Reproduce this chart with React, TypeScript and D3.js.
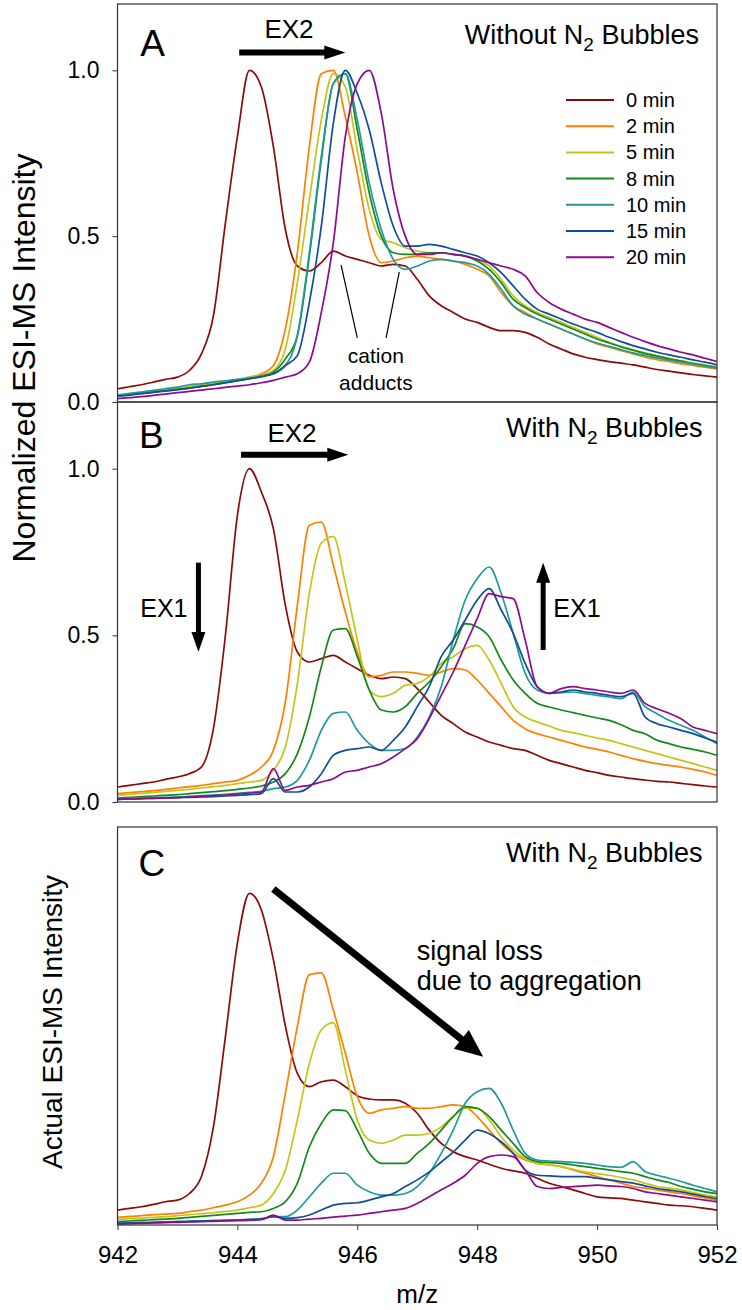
import React, { useEffect, useRef } from 'react';
import * as d3 from 'd3';

// m/z grid shared by every trace
const MZ = [
  942.0, 942.2, 942.4, 942.6, 942.8, 943.0, 943.2, 943.4, 943.6, 943.8,
  944.0, 944.2, 944.4, 944.6, 944.8, 945.0, 945.2, 945.4, 945.6, 945.8,
  946.0, 946.2, 946.4, 946.6, 946.8, 947.0, 947.2, 947.4, 947.6, 947.8,
  948.0, 948.2, 948.4, 948.6, 948.8, 949.0, 949.2, 949.4, 949.6, 949.8,
  950.0, 950.2, 950.4, 950.6, 950.8, 951.0, 951.2, 951.4, 951.6, 951.8, 952.0,
];

const SERIES = ['0 min', '2 min', '5 min', '8 min', '10 min', '15 min', '20 min'];
const COLORS = ['#8b0a0a', '#ff8000', '#c4c41a', '#14891a', '#1f9a9a', '#104e96', '#8e0a8e'];

const Y_TICKS = [0, 0.5, 1.0];
const X_TICKS = [942, 944, 946, 948, 950, 952];

// Panel A - without N2 bubbles (normalized)
const A_0 = [0.040, 0.046, 0.052, 0.060, 0.068, 0.075, 0.095, 0.145, 0.260, 0.540,
  0.800, 1.000, 0.950, 0.770, 0.520, 0.410, 0.395, 0.420, 0.455, 0.440,
  0.430, 0.420, 0.410, 0.415, 0.410, 0.370, 0.320, 0.290, 0.270, 0.250,
  0.240, 0.225, 0.215, 0.215, 0.210, 0.195, 0.175, 0.160, 0.145, 0.135,
  0.128, 0.122, 0.117, 0.112, 0.105, 0.098, 0.093, 0.088, 0.083, 0.079, 0.075];
const A_2 = [0.020, 0.024, 0.028, 0.032, 0.036, 0.040, 0.045, 0.050, 0.055, 0.060,
  0.066, 0.075, 0.085, 0.110, 0.220, 0.450, 0.770, 0.990, 1.000, 0.860,
  0.690, 0.500, 0.420, 0.425, 0.435, 0.440, 0.435, 0.430, 0.425, 0.415,
  0.400, 0.380, 0.330, 0.290, 0.270, 0.250, 0.235, 0.220, 0.205, 0.190,
  0.175, 0.165, 0.155, 0.145, 0.135, 0.128, 0.122, 0.115, 0.110, 0.105, 0.100];
const A_5 = [0.022, 0.026, 0.030, 0.034, 0.038, 0.042, 0.047, 0.052, 0.057, 0.062,
  0.068, 0.075, 0.082, 0.095, 0.160, 0.360, 0.610, 0.850, 0.990, 0.950,
  0.760, 0.580, 0.490, 0.480, 0.465, 0.455, 0.450, 0.450, 0.445, 0.440,
  0.430, 0.410, 0.370, 0.320, 0.290, 0.270, 0.255, 0.240, 0.225, 0.210,
  0.195, 0.180, 0.168, 0.158, 0.148, 0.140, 0.132, 0.125, 0.118, 0.112, 0.105];
const A_8 = [0.018, 0.022, 0.026, 0.030, 0.034, 0.038, 0.042, 0.047, 0.052, 0.058,
  0.064, 0.070, 0.078, 0.090, 0.130, 0.200, 0.440, 0.730, 0.960, 0.990,
  0.820, 0.630, 0.500, 0.450, 0.445, 0.445, 0.450, 0.450, 0.445, 0.440,
  0.425, 0.400, 0.360, 0.310, 0.285, 0.265, 0.250, 0.235, 0.220, 0.205,
  0.190, 0.178, 0.166, 0.156, 0.146, 0.138, 0.130, 0.123, 0.116, 0.110, 0.104];
const A_10 = [0.020, 0.025, 0.030, 0.035, 0.040, 0.045, 0.052, 0.055, 0.060, 0.064,
  0.068, 0.072, 0.078, 0.085, 0.110, 0.200, 0.450, 0.740, 0.960, 0.990,
  0.850, 0.660, 0.520, 0.430, 0.400, 0.410, 0.425, 0.430, 0.425, 0.420,
  0.410, 0.385, 0.340, 0.290, 0.265, 0.250, 0.235, 0.220, 0.205, 0.190,
  0.178, 0.168, 0.158, 0.148, 0.140, 0.133, 0.126, 0.120, 0.114, 0.108, 0.102];
const A_15 = [0.018, 0.021, 0.025, 0.029, 0.033, 0.037, 0.042, 0.047, 0.052, 0.058,
  0.064, 0.070, 0.076, 0.085, 0.110, 0.140, 0.300, 0.530, 0.840, 1.000,
  0.930, 0.820, 0.660, 0.530, 0.470, 0.470, 0.475, 0.470, 0.460, 0.450,
  0.440, 0.420, 0.390, 0.350, 0.310, 0.280, 0.265, 0.250, 0.235, 0.222,
  0.210, 0.195, 0.182, 0.170, 0.160, 0.150, 0.142, 0.135, 0.127, 0.120, 0.112];
const A_20 = [0.010, 0.013, 0.016, 0.020, 0.024, 0.028, 0.032, 0.036, 0.040, 0.044,
  0.048, 0.052, 0.058, 0.065, 0.075, 0.085, 0.120, 0.270, 0.480, 0.800,
  0.960, 1.000, 0.870, 0.640, 0.500, 0.445, 0.445, 0.450, 0.445, 0.440,
  0.430, 0.420, 0.410, 0.400, 0.380, 0.330, 0.300, 0.280, 0.265, 0.250,
  0.240, 0.225, 0.210, 0.195, 0.182, 0.170, 0.160, 0.150, 0.142, 0.132, 0.122];

// Panel B - with N2 bubbles (normalized)
const B_0 = [0.045, 0.050, 0.055, 0.060, 0.068, 0.075, 0.085, 0.105, 0.220, 0.500,
  0.860, 1.000, 0.930, 0.820, 0.590, 0.450, 0.420, 0.430, 0.440, 0.420,
  0.400, 0.380, 0.370, 0.375, 0.370, 0.340, 0.300, 0.260, 0.235, 0.210,
  0.195, 0.180, 0.170, 0.160, 0.155, 0.140, 0.125, 0.115, 0.105, 0.095,
  0.088, 0.080, 0.075, 0.070, 0.066, 0.062, 0.060, 0.056, 0.052, 0.048, 0.045];
const B_2 = [0.025, 0.028, 0.031, 0.034, 0.038, 0.042, 0.046, 0.050, 0.055, 0.060,
  0.065, 0.080, 0.105, 0.155, 0.300, 0.590, 0.830, 0.840, 0.710, 0.570,
  0.450, 0.376, 0.380, 0.390, 0.390, 0.386, 0.380, 0.390, 0.400, 0.396,
  0.366, 0.326, 0.286, 0.245, 0.220, 0.205, 0.195, 0.185, 0.175, 0.165,
  0.158, 0.150, 0.140, 0.130, 0.122, 0.115, 0.110, 0.105, 0.098, 0.090, 0.080];
const B_5 = [0.020, 0.023, 0.026, 0.029, 0.032, 0.035, 0.038, 0.042, 0.046, 0.050,
  0.055, 0.060, 0.065, 0.095, 0.165, 0.355, 0.626, 0.777, 0.797, 0.656,
  0.486, 0.336, 0.316, 0.326, 0.350, 0.356, 0.376, 0.416, 0.436, 0.460,
  0.470, 0.426, 0.356, 0.286, 0.255, 0.240, 0.228, 0.215, 0.208, 0.200,
  0.192, 0.185, 0.175, 0.165, 0.155, 0.145, 0.135, 0.125, 0.115, 0.105, 0.095];
const B_8 = [0.012, 0.014, 0.016, 0.018, 0.020, 0.022, 0.025, 0.028, 0.031, 0.034,
  0.038, 0.042, 0.048, 0.060, 0.085, 0.145, 0.255, 0.406, 0.516, 0.520,
  0.436, 0.336, 0.276, 0.270, 0.286, 0.326, 0.360, 0.406, 0.460, 0.535,
  0.525, 0.496, 0.426, 0.366, 0.326, 0.296, 0.285, 0.276, 0.268, 0.260,
  0.252, 0.245, 0.232, 0.215, 0.205, 0.185, 0.175, 0.165, 0.158, 0.150, 0.140];
const B_10 = [0.010, 0.011, 0.012, 0.013, 0.014, 0.015, 0.017, 0.019, 0.021, 0.023,
  0.026, 0.029, 0.032, 0.040, 0.045, 0.065, 0.125, 0.215, 0.266, 0.270,
  0.215, 0.175, 0.155, 0.155, 0.160, 0.195, 0.255, 0.346, 0.486, 0.606,
  0.670, 0.705, 0.626, 0.506, 0.386, 0.336, 0.326, 0.328, 0.330, 0.325,
  0.320, 0.315, 0.310, 0.330, 0.286, 0.265, 0.245, 0.230, 0.215, 0.195, 0.175];
const B_15 = [0.008, 0.009, 0.010, 0.011, 0.012, 0.013, 0.014, 0.015, 0.016, 0.018,
  0.020, 0.022, 0.025, 0.070, 0.030, 0.030, 0.045, 0.085, 0.140, 0.155,
  0.160, 0.165, 0.155, 0.185, 0.225, 0.286, 0.346, 0.436, 0.486, 0.546,
  0.606, 0.640, 0.576, 0.506, 0.416, 0.346, 0.326, 0.330, 0.336, 0.330,
  0.326, 0.320, 0.316, 0.326, 0.255, 0.235, 0.225, 0.215, 0.205, 0.192, 0.180];
const B_20 = [0.008, 0.009, 0.010, 0.011, 0.012, 0.013, 0.015, 0.017, 0.019, 0.021,
  0.024, 0.027, 0.030, 0.100, 0.035, 0.045, 0.050, 0.060, 0.070, 0.090,
  0.095, 0.105, 0.115, 0.135, 0.160, 0.190, 0.250, 0.320, 0.390, 0.470,
  0.550, 0.625, 0.616, 0.610, 0.486, 0.346, 0.326, 0.340, 0.346, 0.340,
  0.336, 0.330, 0.326, 0.336, 0.296, 0.280, 0.266, 0.250, 0.225, 0.215, 0.205];

// Panel C - with N2 bubbles (actual intensity, arbitrary units)
const C_0 = [0.045, 0.050, 0.055, 0.062, 0.070, 0.075, 0.095, 0.146, 0.296, 0.568,
  0.850, 1.000, 0.950, 0.800, 0.600, 0.457, 0.417, 0.432, 0.437, 0.417,
  0.390, 0.380, 0.377, 0.377, 0.367, 0.337, 0.286, 0.246, 0.221, 0.206,
  0.196, 0.183, 0.171, 0.163, 0.156, 0.141, 0.126, 0.116, 0.106, 0.095,
  0.085, 0.082, 0.080, 0.075, 0.070, 0.065, 0.060, 0.058, 0.055, 0.050, 0.045];
const C_2 = [0.023, 0.026, 0.028, 0.031, 0.033, 0.035, 0.040, 0.045, 0.052, 0.060,
  0.070, 0.090, 0.126, 0.206, 0.397, 0.598, 0.755, 0.760, 0.648, 0.518,
  0.387, 0.337, 0.347, 0.352, 0.357, 0.352, 0.352, 0.357, 0.362, 0.357,
  0.327, 0.286, 0.246, 0.216, 0.196, 0.186, 0.181, 0.176, 0.166, 0.156,
  0.146, 0.136, 0.126, 0.116, 0.111, 0.106, 0.100, 0.095, 0.088, 0.082, 0.075];
const C_5 = [0.017, 0.019, 0.021, 0.023, 0.025, 0.028, 0.031, 0.034, 0.037, 0.041,
  0.045, 0.052, 0.060, 0.095, 0.166, 0.317, 0.487, 0.588, 0.610, 0.467,
  0.317, 0.256, 0.246, 0.256, 0.271, 0.271, 0.276, 0.296, 0.327, 0.352,
  0.352, 0.317, 0.266, 0.226, 0.200, 0.186, 0.181, 0.176, 0.168, 0.160,
  0.155, 0.150, 0.143, 0.136, 0.126, 0.116, 0.111, 0.106, 0.098, 0.090, 0.085];
const C_8 = [0.010, 0.012, 0.014, 0.016, 0.018, 0.020, 0.023, 0.026, 0.029, 0.032,
  0.035, 0.038, 0.040, 0.050, 0.070, 0.126, 0.236, 0.306, 0.347, 0.345,
  0.286, 0.216, 0.186, 0.186, 0.186, 0.216, 0.246, 0.286, 0.327, 0.357,
  0.352, 0.327, 0.286, 0.246, 0.206, 0.191, 0.188, 0.186, 0.181, 0.176,
  0.171, 0.166, 0.161, 0.156, 0.146, 0.136, 0.128, 0.116, 0.108, 0.100, 0.095];
const C_10 = [0.005, 0.006, 0.007, 0.008, 0.009, 0.010, 0.011, 0.012, 0.013, 0.014,
  0.015, 0.017, 0.019, 0.025, 0.025, 0.045, 0.085, 0.126, 0.156, 0.156,
  0.120, 0.100, 0.090, 0.090, 0.095, 0.116, 0.156, 0.216, 0.286, 0.367,
  0.402, 0.412, 0.367, 0.286, 0.216, 0.196, 0.193, 0.191, 0.189, 0.186,
  0.181, 0.176, 0.174, 0.191, 0.161, 0.150, 0.141, 0.131, 0.120, 0.110, 0.100];
const C_15 = [0.005, 0.006, 0.007, 0.008, 0.009, 0.010, 0.011, 0.012, 0.013, 0.014,
  0.015, 0.016, 0.018, 0.025, 0.020, 0.022, 0.030, 0.045, 0.060, 0.065,
  0.067, 0.075, 0.085, 0.095, 0.116, 0.136, 0.160, 0.190, 0.220, 0.256,
  0.286, 0.275, 0.251, 0.216, 0.166, 0.150, 0.148, 0.146, 0.146, 0.146,
  0.141, 0.136, 0.131, 0.126, 0.118, 0.110, 0.105, 0.100, 0.093, 0.086, 0.080];
const C_20 = [0.003, 0.004, 0.005, 0.006, 0.007, 0.008, 0.009, 0.010, 0.011, 0.012,
  0.013, 0.014, 0.016, 0.030, 0.015, 0.015, 0.018, 0.020, 0.024, 0.027,
  0.030, 0.035, 0.040, 0.045, 0.050, 0.065, 0.085, 0.106, 0.126, 0.150,
  0.186, 0.206, 0.211, 0.206, 0.166, 0.116, 0.110, 0.113, 0.116, 0.118,
  0.120, 0.118, 0.116, 0.110, 0.100, 0.095, 0.090, 0.085, 0.080, 0.075, 0.070];

const PANEL_A = [A_0, A_2, A_5, A_8, A_10, A_15, A_20];
const PANEL_B = [B_0, B_2, B_5, B_8, B_10, B_15, B_20];
const PANEL_C = [C_0, C_2, C_5, C_8, C_10, C_15, C_20];

const W = 742;
const H = 1310;
const LEFT = 117.5;
const RIGHT = 717;
const FONT = "'Liberation Sans', Arial, Helvetica, sans-serif";

const PANELS = [
  { key: 'A', top: 4, bottom: 402, data: PANEL_A, yAxis: true },
  { key: 'B', top: 402, bottom: 802, data: PANEL_B, yAxis: true },
  { key: 'C', top: 827, bottom: 1225, data: PANEL_C, yAxis: false },
];

type G = d3.Selection<SVGGElement, unknown, null, undefined>;

function arrow(g: G, x1: number, y1: number, x2: number, y2: number, w: number, hl: number, hw: number) {
  const dx = x2 - x1;
  const dy = y2 - y1;
  const len = Math.hypot(dx, dy);
  const ux = dx / len, uy = dy / len;
  const px = -uy, py = ux;
  const bx = x2 - ux * hl, by = y2 - uy * hl;
  g.append('line')
    .attr('x1', x1).attr('y1', y1)
    .attr('x2', bx + ux * 2).attr('y2', by + uy * 2)
    .attr('stroke', '#000').attr('stroke-width', w);
  g.append('path')
    .attr('d', `M${x2},${y2}L${bx + px * hw},${by + py * hw}L${bx - px * hw},${by - py * hw}Z`)
    .attr('fill', '#000');
}

function label(g: G, text: string, x: number, y: number, size: number, anchor = 'start') {
  return g.append('text')
    .attr('x', x).attr('y', y)
    .attr('font-size', size)
    .attr('font-family', FONT)
    .attr('text-anchor', anchor)
    .attr('fill', '#000')
    .text(text);
}

function bubbles(g: G, lead: string, x: number, y: number) {
  const t = g.append('text')
    .attr('x', x).attr('y', y)
    .attr('font-size', 27)
    .attr('font-family', FONT)
    .attr('text-anchor', 'end');
  t.append('tspan').text(`${lead} N`);
  t.append('tspan').attr('font-size', 19).attr('dy', 7).text('2');
  t.append('tspan').attr('dy', -7).text(' Bubbles');
}

export default function App() {
  const svgRef = useRef<SVGSVGElement>(null);

  useEffect(() => {
    if (!svgRef.current) return;
    const svg = d3.select(svgRef.current);
    svg.selectAll('*').remove();

    const x = d3.scaleLinear().domain([942, 952]).range([LEFT, RIGHT]);
    const ys: d3.ScaleLinear<number, number>[] = [];

    PANELS.forEach((p) => {
      const y = d3.scaleLinear().domain([0, 1.2]).range([p.bottom, p.top]);
      ys.push(y);
      const g = svg.append('g');

      const line = d3.line<number>()
        .x((_, i) => x(MZ[i]))
        .y((d) => y(d))
        .curve(d3.curveMonotoneX);

      p.data.forEach((vals, k) => {
        g.append('path')
          .attr('d', line(vals))
          .attr('fill', 'none')
          .attr('stroke', COLORS[k])
          .attr('stroke-width', 1.7)
          .attr('stroke-linejoin', 'round');
      });

      g.append('rect')
        .attr('x', LEFT).attr('y', p.top)
        .attr('width', RIGHT - LEFT).attr('height', p.bottom - p.top)
        .attr('fill', 'none')
        .attr('stroke', '#333')
        .attr('stroke-width', 1.2);

      if (p.yAxis) {
        const ax = g.append('g')
          .attr('transform', `translate(${LEFT},0)`)
          .call(d3.axisLeft(y).tickValues(Y_TICKS).tickFormat(d3.format('.1f')).tickSize(5).tickPadding(13).tickSizeOuter(0));
        ax.select('.domain').remove();
        ax.selectAll('line').attr('stroke', '#333');
        ax.selectAll('text').attr('font-size', 23).attr('font-family', FONT).attr('fill', '#000');
      }
    });

    // bottom axis of panel C
    const yC = ys[2];
    const xa = svg.append('g')
      .attr('transform', `translate(0,${yC(0)})`)
      .call(d3.axisBottom(x).tickValues(X_TICKS).tickFormat(d3.format('d')).tickSize(5).tickPadding(16).tickSizeOuter(0));
    xa.select('.domain').remove();
    xa.selectAll('line').attr('stroke', '#333');
    xa.selectAll('text').attr('font-size', 24).attr('font-family', FONT).attr('fill', '#000');

    const ann = svg.append('g');
    const [yA, yB] = ys;

    // axis titles
    ann.append('text')
      .attr('transform', 'translate(35,358) rotate(-90)')
      .attr('text-anchor', 'middle')
      .attr('font-size', 32)
      .attr('font-family', FONT)
      .text('Normalized ESI-MS Intensity');
    ann.append('text')
      .attr('transform', 'translate(62,1022) rotate(-90)')
      .attr('text-anchor', 'middle')
      .attr('font-size', 28)
      .attr('font-family', FONT)
      .text('Actual ESI-MS Intensity');
    label(ann, 'm/z', (LEFT + RIGHT) / 2, 1303, 26, 'middle');

    // panel A
    label(ann, 'A', x(942.38), yA(1.042), 37);
    label(ann, 'EX2', x(944.86), yA(1.096), 26, 'middle');
    arrow(ann, x(944.03), yA(1.054), x(945.8), yA(1.054), 6, 21, 7);
    bubbles(ann, 'Without', x(951.7), yA(1.078));
    label(ann, 'cation', x(946.31), yA(0.117), 21, 'middle');
    label(ann, 'adducts', x(946.31), yA(0.036), 21, 'middle');
    ann.append('line')
      .attr('x1', x(946.0)).attr('y1', yA(0.193)).attr('x2', x(945.73)).attr('y2', yA(0.413))
      .attr('stroke', '#000').attr('stroke-width', 1.2);
    ann.append('line')
      .attr('x1', x(946.48)).attr('y1', yA(0.193)).attr('x2', x(946.7)).attr('y2', yA(0.392))
      .attr('stroke', '#000').attr('stroke-width', 1.2);

    // legend
    SERIES.forEach((s, i) => {
      const ly = 100 + i * 26.2;
      ann.append('line')
        .attr('x1', 566).attr('x2', 614).attr('y1', ly).attr('y2', ly)
        .attr('stroke', COLORS[i]).attr('stroke-width', 2);
      label(ann, s, 626, ly + 7, 20);
    });

    // panel B
    label(ann, 'B', x(942.36), yB(1.063), 37);
    label(ann, 'EX2', x(944.91), yB(1.081), 26, 'middle');
    arrow(ann, x(944.06), yB(1.042), x(945.85), yB(1.042), 6, 21, 7);
    bubbles(ann, 'With', x(951.76), yB(1.096));
    label(ann, 'EX1', x(942.38), yB(0.555), 25);
    arrow(ann, x(943.35), yB(0.718), x(943.35), yB(0.45), 5, 20, 7);
    label(ann, 'EX1', x(949.27), yB(0.555), 25);
    arrow(ann, x(949.1), yB(0.456), x(949.1), yB(0.718), 5, 20, 7);

    // panel C
    label(ann, 'C', x(942.35), yC(1.052), 37);
    bubbles(ann, 'With', x(951.76), yC(1.094));
    arrow(ann, x(944.6), yC(1.013), x(948.1), yC(0.507), 7, 28, 12);
    label(ann, 'signal loss', x(946.99), yC(0.799), 27);
    label(ann, 'due to aggregation', x(946.99), yC(0.708), 27);
  }, []);

  return (
    <div style={{ position: 'absolute', left: 0, top: 0, width: W, height: H, background: '#fff' }}>
      <svg ref={svgRef} width={W} height={H} style={{ display: 'block' }} />
    </div>
  );
}
